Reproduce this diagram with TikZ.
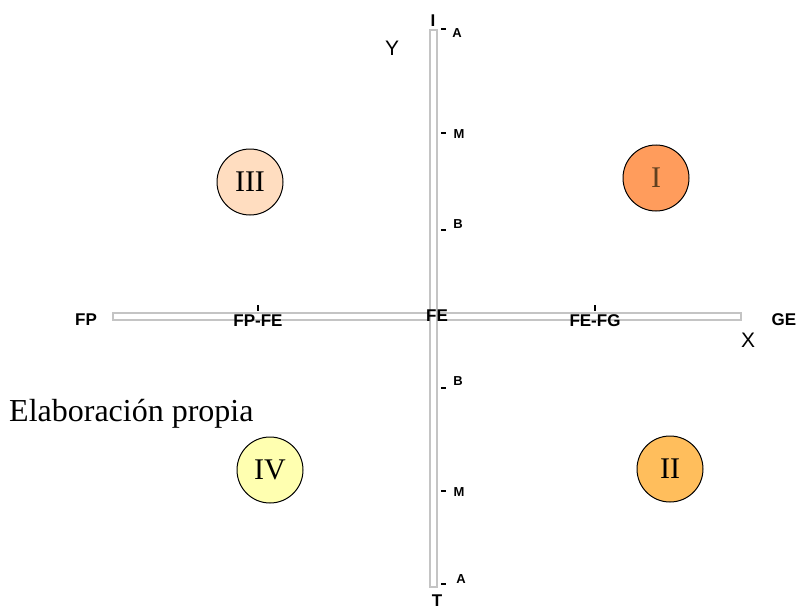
\documentclass[tikz,border=0pt]{standalone}
\usepackage{fontspec}
\setmainfont{Liberation Serif}
\setsansfont{Liberation Sans}
\usetikzlibrary{positioning}

\definecolor{quadI}{HTML}{FF9C5C}
\definecolor{quadII}{HTML}{FFBE5C}
\definecolor{quadIII}{HTML}{FFDDC0}
\definecolor{quadIV}{HTML}{FFFFB0}
\definecolor{barline}{HTML}{C4C4C4}

\begin{document}
\begin{tikzpicture}[x=1pt, y=-1pt,
  bar/.style={draw=barline, fill=white, line width=1.3pt},
  quad/.style={circle, draw, line width=1pt, minimum size=66pt, inner sep=0pt,
               font=\fontsize{30}{30}\selectfont},
  pole/.style={font=\sffamily\bfseries\fontsize{17}{17}\selectfont, inner sep=0pt},
  lvl/.style={font=\sffamily\bfseries\fontsize{13}{13}\selectfont, inner sep=0pt},
  axname/.style={font=\sffamily\fontsize{21}{21}\selectfont, inner sep=0pt},
  tic/.style={line width=1.3pt}
]
  \useasboundingbox (0,0) rectangle (798,610);

  % axes
  \draw[bar] (113,313) rectangle (741,320);
  \draw[bar] (430,30) rectangle (437,587);

  % horizontal axis labels
  \node[pole] (fp) at (86,320) {FP};
  \node[pole] (fpfe) at (258,321) {FP-FE};
  \node[pole] (fe) at (437,316) {FE};
  \node[pole] (fefg) at (595,321) {FE-FG};
  \node[pole] (ge) at (784,320) {GE};
  \draw[tic] (258,305) -- (258,311);
  \draw[tic] (595,305) -- (595,311);
  \node[axname] (x) at (748,340) {X};

  % vertical axis labels
  \node[pole] (top) at (433,21) {I};
  \node[pole] (bot) at (437,601) {T};
  \node[axname] (y) at (392,48) {Y};
  \node[lvl] (a1) at (457,33) {A};
  \node[lvl] (m1) at (459,134) {M};
  \node[lvl] (b1) at (458,224) {B};
  \node[lvl] (b2) at (458,381) {B};
  \node[lvl] (m2) at (459,492) {M};
  \node[lvl] (a2) at (461,579) {A};
  \foreach \yy in {29,133,230,388,491,584}
    \draw[tic] (441,\yy) -- (446,\yy);

  % quadrants
  \node[quad, fill=quadI, text=black!50!brown] (qI) at (656,178) {I};
  \node[quad, fill=quadII] (qII) at (670,469) {II};
  \node[quad, fill=quadIII] (qIII) at (250,182) {III};
  \node[quad, fill=quadIV] (qIV) at (270,470) {IV};

  \node[font=\fontsize{32}{32}\selectfont, inner sep=0pt, anchor=west] (src) at (9,414) {Elaboración propia};
\end{tikzpicture}
\end{document}
